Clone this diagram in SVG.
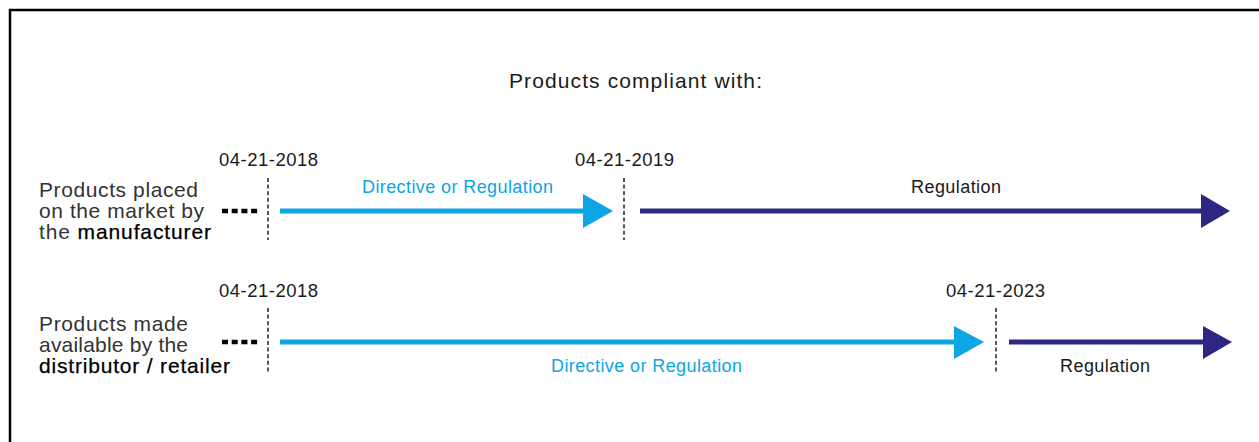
<svg xmlns="http://www.w3.org/2000/svg" width="1259" height="442" viewBox="0 0 1259 442">
<defs>
<style>
text{font-family:"Liberation Sans",Arial,sans-serif;}
.lbl{font-size:21px;fill:#333;}
.em{fill:#000;stroke:#000;stroke-width:0.25;}
.date{font-size:18.5px;fill:#1a1a1a;}
.cy{font-size:18px;fill:#0ea5e4;}
.nv{font-size:18px;fill:#1a1a1a;}
.dash{stroke:#222;stroke-width:1.5;stroke-dasharray:4 2.6;fill:none;}
.dots{stroke:#000;stroke-width:4.5;stroke-dasharray:6 3.7;}
.cyl{stroke:#0ea5e4;stroke-width:5;}
.nvl{stroke:#2e2683;stroke-width:5;}
</style>
</defs>
<rect width="1259" height="442" fill="#fff"/>
<rect x="10" y="10" width="1262" height="450" fill="none" stroke="#000" stroke-width="2.5"/>
<text id="title" x="509" y="88" font-size="21" fill="#1a1a1a" textLength="253" lengthAdjust="spacing">Products compliant with:</text>

<g id="row1-label">
<text class="lbl" x="39" y="197" textLength="159" lengthAdjust="spacing">Products placed</text>
<text class="lbl" x="39" y="218" textLength="165" lengthAdjust="spacing">on the market by</text>
<text class="lbl" x="39" y="239" textLength="172" lengthAdjust="spacing">the <tspan class="em">manufacturer</tspan></text>
</g>
<g id="row2-label">
<text class="lbl" x="39" y="331" textLength="149" lengthAdjust="spacing">Products made</text>
<text class="lbl" x="39" y="352" textLength="149" lengthAdjust="spacing">available by the</text>
<text class="lbl em" x="39" y="373" textLength="191" lengthAdjust="spacing">distributor / retailer</text>
</g>

<g id="dates">
<text class="date" x="219" y="166" textLength="99" lengthAdjust="spacing">04-21-2018</text>
<text class="date" x="575" y="166" textLength="99" lengthAdjust="spacing">04-21-2019</text>
<text class="date" x="219" y="297" textLength="99" lengthAdjust="spacing">04-21-2018</text>
<text class="date" x="946" y="297" textLength="99" lengthAdjust="spacing">04-21-2023</text>
</g>

<g id="markers">
<line class="dash" x1="268" y1="178" x2="268" y2="240"/>
<line class="dash" x1="624" y1="178" x2="624" y2="240"/>
<line class="dash" x1="268" y1="308" x2="268" y2="372"/>
<line class="dash" x1="996" y1="308" x2="996" y2="372"/>
<line class="dots" x1="222" y1="211" x2="258" y2="211"/>
<line class="dots" x1="222" y1="342" x2="258" y2="342"/>
</g>

<g id="connectors">
<line class="cyl" x1="280" y1="211" x2="585" y2="211"/>
<polygon points="583,194 613,211 583,228" fill="#0ea5e4"/>
<line class="nvl" x1="640" y1="211" x2="1203" y2="211"/>
<polygon points="1201,194 1230,211 1201,228" fill="#2e2683"/>
<line class="cyl" x1="280" y1="342" x2="956" y2="342"/>
<polygon points="954,326 984,342 954,359" fill="#0ea5e4"/>
<line class="nvl" x1="1009" y1="342" x2="1205" y2="342"/>
<polygon points="1203,326 1232,342 1203,359" fill="#2e2683"/>
</g>

<g id="arrow-labels">
<text class="cy" x="362" y="193" textLength="191" lengthAdjust="spacing">Directive or Regulation</text>
<text class="nv" x="911" y="193" textLength="90" lengthAdjust="spacing">Regulation</text>
<text class="cy" x="551" y="372" textLength="191" lengthAdjust="spacing">Directive or Regulation</text>
<text class="nv" x="1060" y="372" textLength="90" lengthAdjust="spacing">Regulation</text>
</g>
</svg>
